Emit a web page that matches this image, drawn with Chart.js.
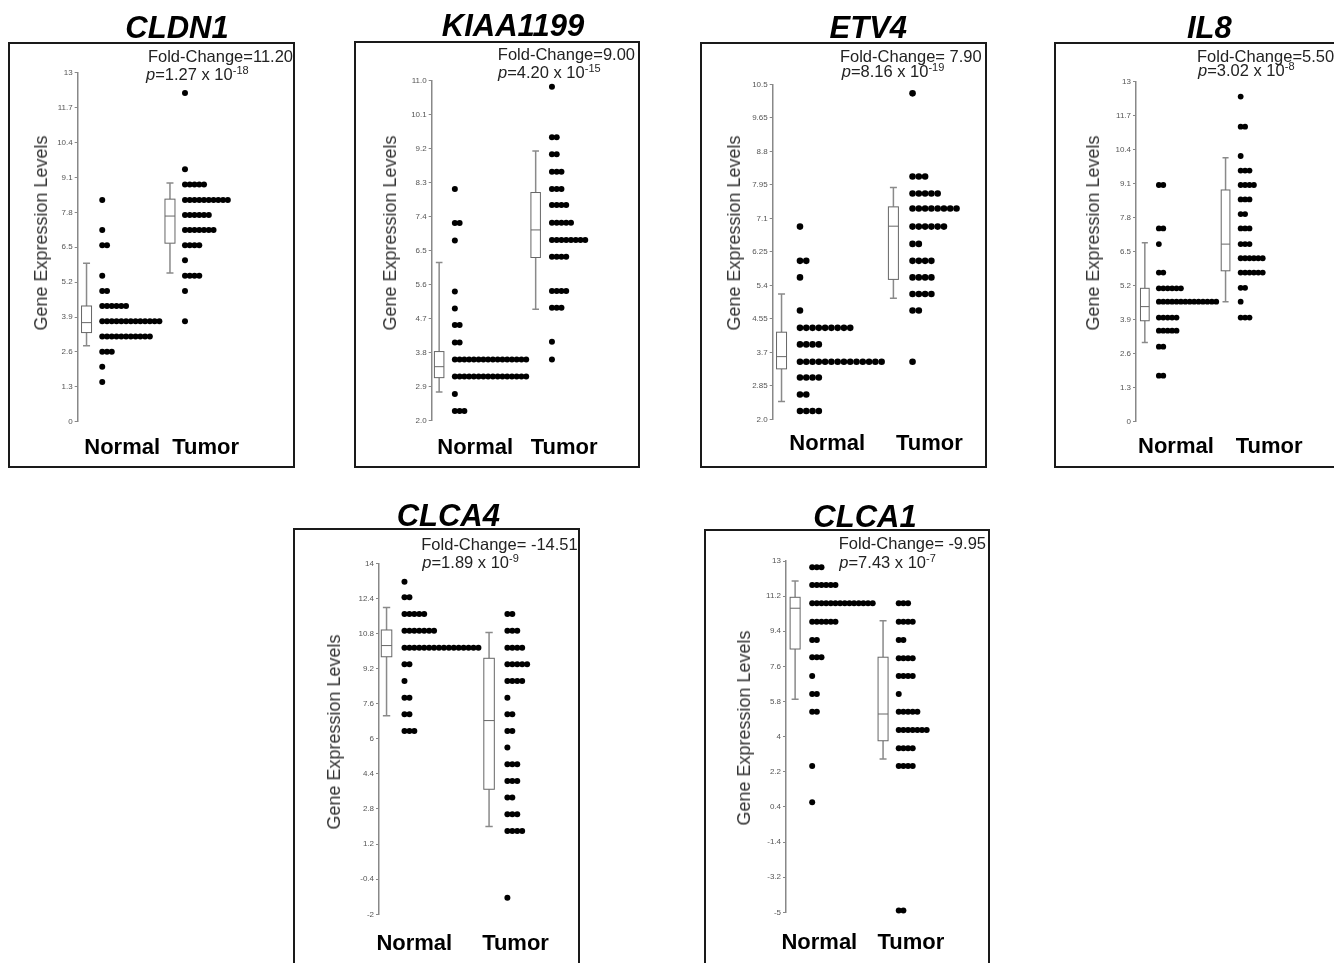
<!DOCTYPE html>
<html>
<head>
<meta charset="utf-8">
<script src="https://cdn.jsdelivr.net/npm/chart.js@4.4.1/dist/chart.umd.min.js"></script>
<style>
  html, body { margin: 0; padding: 0; background: #fff; overflow: hidden; width: 1334px; height: 963px; }
  body { position: relative; font-family: 'Liberation Sans', Arial, sans-serif; }
  .frame { position: absolute; box-sizing: border-box; border: 2px solid #1a1a1a; }
  canvas { position: absolute; }
  .txt { position: absolute; white-space: nowrap; line-height: 1; }
  .gene { font-weight: bold; font-style: italic; font-size: 31px; color: #000; text-align: center; width: 300px; }
  .stat { font-size: 16.5px; color: #222; }
  .stat .sup { position: relative; top: -6px; font-size: 11px; }
  .ytitle { font-size: 18px; color: #333; transform: translate(-50%, -50%) rotate(-90deg); }
</style>
</head>
<body>
<script>
Chart.defaults.font.family = "'Liberation Sans', Arial, sans-serif";

const groups = ['Normal', 'Tumor'];
const genes = ['CLDN1', 'KIAA1199', 'ETV4', 'IL8', 'CLCA4', 'CLCA1'];
const foldChanges = ['11.20', '9.00', ' 7.90', '5.50', ' -14.51', ' -9.95'];
const pMantissas = ['1.27', '4.20', '8.16', '3.02', '1.89', '7.43'];
const pExponents = ['-18', '-15', '-19', '-8', '-9', '-7'];

// CLDN1
const cldn1Ticks = ['0', '1.3', '2.6', '3.9', '5.2', '6.5', '7.8', '9.1', '10.4', '11.7', '13'];
const cldn1NormalLevels = [8.26, 7.14, 6.57, 5.44, 4.87, 4.31, 3.74, 3.17, 2.61, 2.05, 1.48];
const cldn1NormalCounts = [1, 1, 2, 1, 2, 6, 13, 11, 3, 1, 1];
const cldn1TumorLevels = [12.24, 9.40, 8.84, 8.26, 7.70, 7.14, 6.57, 6.01, 5.44, 4.87, 3.74];
const cldn1TumorCounts = [1, 1, 5, 10, 6, 7, 4, 1, 4, 1, 1];
const cldn1Boxes = [[2.83, 3.32, 3.69, 4.31, 5.90], [5.54, 6.65, 7.66, 8.29, 8.89]];

// KIAA1199
const kiaaTicks = ['2.0', '2.9', '3.8', '4.7', '5.6', '6.5', '7.4', '8.3', '9.2', '10.1', '11.0'];
const kiaaNormalLevels = [8.13, 7.23, 6.77, 5.42, 4.97, 4.53, 4.07, 3.62, 3.17, 2.71, 2.26];
const kiaaNormalCounts = [1, 2, 1, 1, 1, 2, 2, 16, 16, 1, 3];
const kiaaTumorLevels = [10.84, 9.50, 9.05, 8.59, 8.13, 7.71, 7.24, 6.78, 6.34, 5.43, 4.99, 4.09, 3.62];
const kiaaTumorCounts = [1, 2, 2, 3, 3, 4, 5, 8, 4, 4, 3, 1, 1];
const kiaaBoxes = [[2.76, 3.14, 3.43, 3.83, 6.19], [4.95, 6.32, 7.05, 8.04, 9.14]];

// ETV4
const etv4Ticks = ['2.0', '2.85', '3.7', '4.55', '5.4', '6.25', '7.1', '7.95', '8.8', '9.65', '10.5'];
const etv4NormalLevels = [6.89, 6.02, 5.60, 4.76, 4.32, 3.90, 3.46, 3.06, 2.63, 2.21];
const etv4NormalCounts = [1, 2, 1, 1, 9, 4, 14, 4, 2, 4];
const etv4TumorLevels = [10.27, 8.16, 7.73, 7.35, 6.89, 6.45, 6.02, 5.60, 5.18, 4.76, 3.46];
const etv4TumorCounts = [1, 3, 5, 8, 6, 2, 4, 4, 4, 2, 1];
const etv4Boxes = [[2.45, 3.28, 3.59, 4.21, 5.18], [5.07, 5.55, 6.90, 7.39, 7.88]];

// IL8
const il8Ticks = ['0', '1.3', '2.6', '3.9', '5.2', '6.5', '7.8', '9.1', '10.4', '11.7', '13'];
const il8NormalLevels = [9.05, 7.39, 6.79, 5.70, 5.10, 4.59, 3.98, 3.48, 2.87, 1.76];
const il8NormalCounts = [2, 2, 1, 2, 6, 14, 5, 5, 2, 2];
const il8TumorLevels = [12.43, 11.28, 10.16, 9.60, 9.05, 8.50, 7.94, 7.39, 6.79, 6.25, 5.70, 5.12, 4.59, 3.98];
const il8TumorCounts = [1, 2, 1, 3, 4, 3, 2, 3, 3, 6, 6, 2, 1, 3];
const il8Boxes = [[3.03, 3.86, 4.40, 5.10, 6.84], [4.59, 5.77, 6.79, 8.86, 10.09]];

// CLCA4
const clca4Ticks = ['-2', '-0.4', '1.2', '2.8', '4.4', '6', '7.6', '9.2', '10.8', '12.4', '14'];
const clca4NormalLevels = [13.16, 12.45, 11.69, 10.93, 10.15, 9.40, 8.64, 7.87, 7.12, 6.36];
const clca4NormalCounts = [1, 2, 5, 7, 16, 2, 1, 2, 2, 3];
const clca4TumorLevels = [11.69, 10.93, 10.15, 9.40, 8.64, 7.87, 7.12, 6.36, 5.60, 4.84, 4.08, 3.32, 2.56, 1.80, -1.24];
const clca4TumorCounts = [2, 3, 4, 5, 4, 1, 2, 2, 1, 3, 3, 2, 3, 4, 1];
const clca4Boxes = [[7.05, 9.74, 10.25, 10.96, 11.99], [2.0, 3.70, 6.83, 9.67, 10.85]];

// CLCA1
const clca1Ticks = ['-5', '-3.2', '-1.4', '0.4', '2.2', '4', '5.8', '7.6', '9.4', '11.2', '13'];
const clca1NormalLevels = [12.68, 11.77, 10.83, 9.89, 8.95, 8.07, 7.11, 6.19, 5.28, 2.50, 0.64];
const clca1NormalCounts = [3, 6, 14, 6, 2, 3, 1, 2, 2, 1, 1];
const clca1TumorLevels = [10.83, 9.89, 8.95, 8.02, 7.11, 6.19, 5.28, 4.34, 3.40, 2.50, -4.91];
const clca1TumorCounts = [3, 4, 2, 4, 4, 1, 5, 7, 4, 4, 2];
const clca1Boxes = [[5.91, 8.49, 10.58, 11.14, 11.98], [2.86, 3.79, 5.16, 8.07, 9.94]];

const series = {
  CLDN1: { ticks: cldn1Ticks, levels: [cldn1NormalLevels, cldn1TumorLevels], counts: [cldn1NormalCounts, cldn1TumorCounts], boxes: cldn1Boxes },
  KIAA1199: { ticks: kiaaTicks, levels: [kiaaNormalLevels, kiaaTumorLevels], counts: [kiaaNormalCounts, kiaaTumorCounts], boxes: kiaaBoxes },
  ETV4: { ticks: etv4Ticks, levels: [etv4NormalLevels, etv4TumorLevels], counts: [etv4NormalCounts, etv4TumorCounts], boxes: etv4Boxes },
  IL8: { ticks: il8Ticks, levels: [il8NormalLevels, il8TumorLevels], counts: [il8NormalCounts, il8TumorCounts], boxes: il8Boxes },
  CLCA4: { ticks: clca4Ticks, levels: [clca4NormalLevels, clca4TumorLevels], counts: [clca4NormalCounts, clca4TumorCounts], boxes: clca4Boxes },
  CLCA1: { ticks: clca1Ticks, levels: [clca1NormalLevels, clca1TumorLevels], counts: [clca1NormalCounts, clca1TumorCounts], boxes: clca1Boxes },
};

// page layout of every panel (pixels)
const layout = {
  CLDN1: { frame: [8, 42, 295, 468], axisX: 77.7, plotY: [72.7, 421.7], boxX: [86.7, 171.7], boxW: 10, dotX: [102.7, 187], step: 4.85, r: 3,
           labelX: [123, 208], labelY: 448, title: [177, 38.3], fold: [293, 61.7, 'right'], p: [146, 80], yTitle: [41, 233] },
  KIAA1199: { frame: [354, 41, 640, 468], axisX: 431.7, plotY: [80.7, 420.7], boxX: [439.3, 537.7], boxW: 9.5, dotX: [455.3, 554.3], step: 4.85, r: 3,
           labelX: [476, 566.7], labelY: 448, title: [513, 36.5], fold: [635, 60, 'right'], p: [498, 78], yTitle: [389.5, 233] },
  ETV4: { frame: [700, 42, 987, 468], axisX: 772.7, plotY: [84.3, 419.3], boxX: [781.7, 895.7], boxW: 10, dotX: [800.5, 915.2], step: 6.4, r: 3.3,
           labelX: [828.3, 932.3], labelY: 444.3, title: [868.3, 38.5], fold: [981.7, 61.7, 'right'], p: [841.7, 77.3], yTitle: [734, 233] },
  IL8: { frame: [1054, 42, 1346, 468], axisX: 1136, plotY: [81.7, 421.7], boxX: [1145, 1227.3], boxW: 8.7, dotX: [1159.3, 1242.7], step: 4.5, r: 2.9,
           labelX: [1176.7, 1271.7], labelY: 446.7, title: [1209.3, 38.3], fold: [1197, 61.7, 'left'], p: [1198, 76], yTitle: [1092.5, 232.5] },
  CLCA4: { frame: [293, 528, 580, 975], axisX: 379, plotY: [563.3, 914.3], boxX: [386.7, 491.3], boxW: 10.5, dotX: [405, 510], step: 5.03, r: 3,
           labelX: [415, 518.3], labelY: 944, title: [448.3, 526.7], fold: [577.7, 550, 'right'], p: [422.3, 568.3], yTitle: [334, 731.7] },
  CLCA1: { frame: [704, 529, 990, 975], axisX: 786, plotY: [561, 912.3], boxX: [795.3, 885], boxW: 10, dotX: [812.7, 901], step: 4.75, r: 3,
           labelX: [820, 913.3], labelY: 943.3, title: [865, 527.3], fold: [986, 549.3, 'right'], p: [839.3, 567.7], yTitle: [744, 728] },
};

// box and whisker drawn through the chart scales
const boxPlugin = {
  id: 'boxes',
  beforeDatasetsDraw(chart, args, opts) {
    const { ctx, scales: { x, y } } = chart;
    const half = opts.width / 2;
    opts.items.forEach(b => {
      const cx = x.getPixelForValue(b.x);
      const [lo, q1, med, q3, hi] = b.stats.map(v => y.getPixelForValue(v));
      ctx.save();
      ctx.strokeStyle = '#8a8a8a';
      ctx.lineWidth = 1.5;
      ctx.beginPath();
      ctx.moveTo(cx, hi); ctx.lineTo(cx, q3);
      ctx.moveTo(cx, q1); ctx.lineTo(cx, lo);
      ctx.moveTo(cx - half * 0.7, hi); ctx.lineTo(cx + half * 0.7, hi);
      ctx.moveTo(cx - half * 0.7, lo); ctx.lineTo(cx + half * 0.7, lo);
      ctx.stroke();
      ctx.fillStyle = '#fff';
      ctx.strokeStyle = '#666';
      ctx.lineWidth = 1;
      ctx.fillRect(cx - half, q3, half * 2, q1 - q3);
      ctx.strokeRect(cx - half, q3, half * 2, q1 - q3);
      ctx.beginPath();
      ctx.moveTo(cx - half, med); ctx.lineTo(cx + half, med);
      ctx.stroke();
      ctx.restore();
    });
  }
};

function addText(cls, html, left, top, extra) {
  const d = document.createElement('div');
  d.className = 'txt ' + cls;
  d.innerHTML = html;
  d.style.left = left + 'px';
  d.style.top = top + 'px';
  if (extra) Object.assign(d.style, extra);
  document.body.appendChild(d);
  return d;
}

genes.forEach((gene, gi) => {
  const L = layout[gene];
  const S = series[gene];
  const [fl, ft, fr, fb] = L.frame;

  const frame = document.createElement('div');
  frame.className = 'frame';
  Object.assign(frame.style, { left: fl + 'px', top: ft + 'px', width: (fr - fl) + 'px', height: (fb - ft) + 'px' });
  document.body.appendChild(frame);

  const canvas = document.createElement('canvas');
  canvas.width = fr - fl;
  canvas.height = fb - ft;
  canvas.style.left = fl + 'px';
  canvas.style.top = ft + 'px';
  document.body.appendChild(canvas);

  // texts
  addText('gene', gene, L.title[0] - 150, L.title[1] - 0.8465 * 31);
  const foldHtml = 'Fold-Change=' + foldChanges[gi];
  if (L.fold[2] === 'right') {
    addText('stat', foldHtml, L.fold[0] - 300, L.fold[1] - 0.8465 * 16.5, { width: '300px', textAlign: 'right' });
  } else {
    addText('stat', foldHtml, L.fold[0], L.fold[1] - 0.8465 * 16.5);
  }
  addText('stat', '<i>p</i>=' + pMantissas[gi] + ' x 10<span class="sup">' + pExponents[gi] + '</span>',
    L.p[0], L.p[1] - 0.8465 * 16.5);
  addText('ytitle', 'Gene Expression Levels', L.yTitle[0], L.yTitle[1]);

  const datasets = groups.map((g, k) => {
    const pts = [];
    S.levels[k].forEach((lvl, i) => {
      for (let n = 0; n < S.counts[k][i]; n++) {
        pts.push({ x: L.dotX[k] - L.axisX + n * L.step, y: lvl });
      }
    });
    return {
      label: g,
      data: pts,
      pointRadius: L.r,
      pointBackgroundColor: '#000',
      pointBorderWidth: 0,
      clip: false,
    };
  });

  const tickVals = S.ticks.map(t => parseFloat(t));

  new Chart(canvas, {
    type: 'scatter',
    data: { datasets },
    options: {
      responsive: false,
      animation: false,
      events: [],
      layout: { padding: { top: L.plotY[0] - ft, left: 0, right: 0, bottom: 0 } },
      plugins: {
        legend: { display: false },
        tooltip: { enabled: false },
        boxes: {
          width: L.boxW,
          items: S.boxes.map((stats, k) => ({ x: L.boxX[k] - L.axisX, stats })),
        },
      },
      scales: {
        x: {
          type: 'linear',
          min: 0,
          max: fr - L.axisX,
          afterFit(s) { s.height = fb - L.plotY[1]; },
          afterBuildTicks(s) { s.ticks = L.labelX.map(v => ({ value: v - L.axisX })); },
          grid: { display: false, drawTicks: false },
          border: { display: false },
          ticks: {
            autoSkip: false, maxRotation: 0, minRotation: 0,
            padding: L.labelY - L.plotY[1] - 13.2,
            color: '#000',
            font: { size: 22, weight: 'bold' },
            callback: (v, i) => groups[i],
          },
        },
        y: {
          type: 'linear',
          min: tickVals[0],
          max: tickVals[tickVals.length - 1],
          afterFit(s) { s.width = L.axisX - fl; },
          afterBuildTicks(s) { s.ticks = tickVals.map(v => ({ value: v })); },
          grid: { display: true, drawOnChartArea: false, drawTicks: true, tickLength: 3, color: '#888' },
          border: { display: true, color: '#888', width: 1.5 },
          ticks: {
            autoSkip: false,
            padding: 2,
            color: '#555',
            font: { size: 8 },
            callback: (v, i) => S.ticks[i],
          },
        },
      },
    },
    plugins: [boxPlugin],
  });
});
</script>
</body>
</html>
